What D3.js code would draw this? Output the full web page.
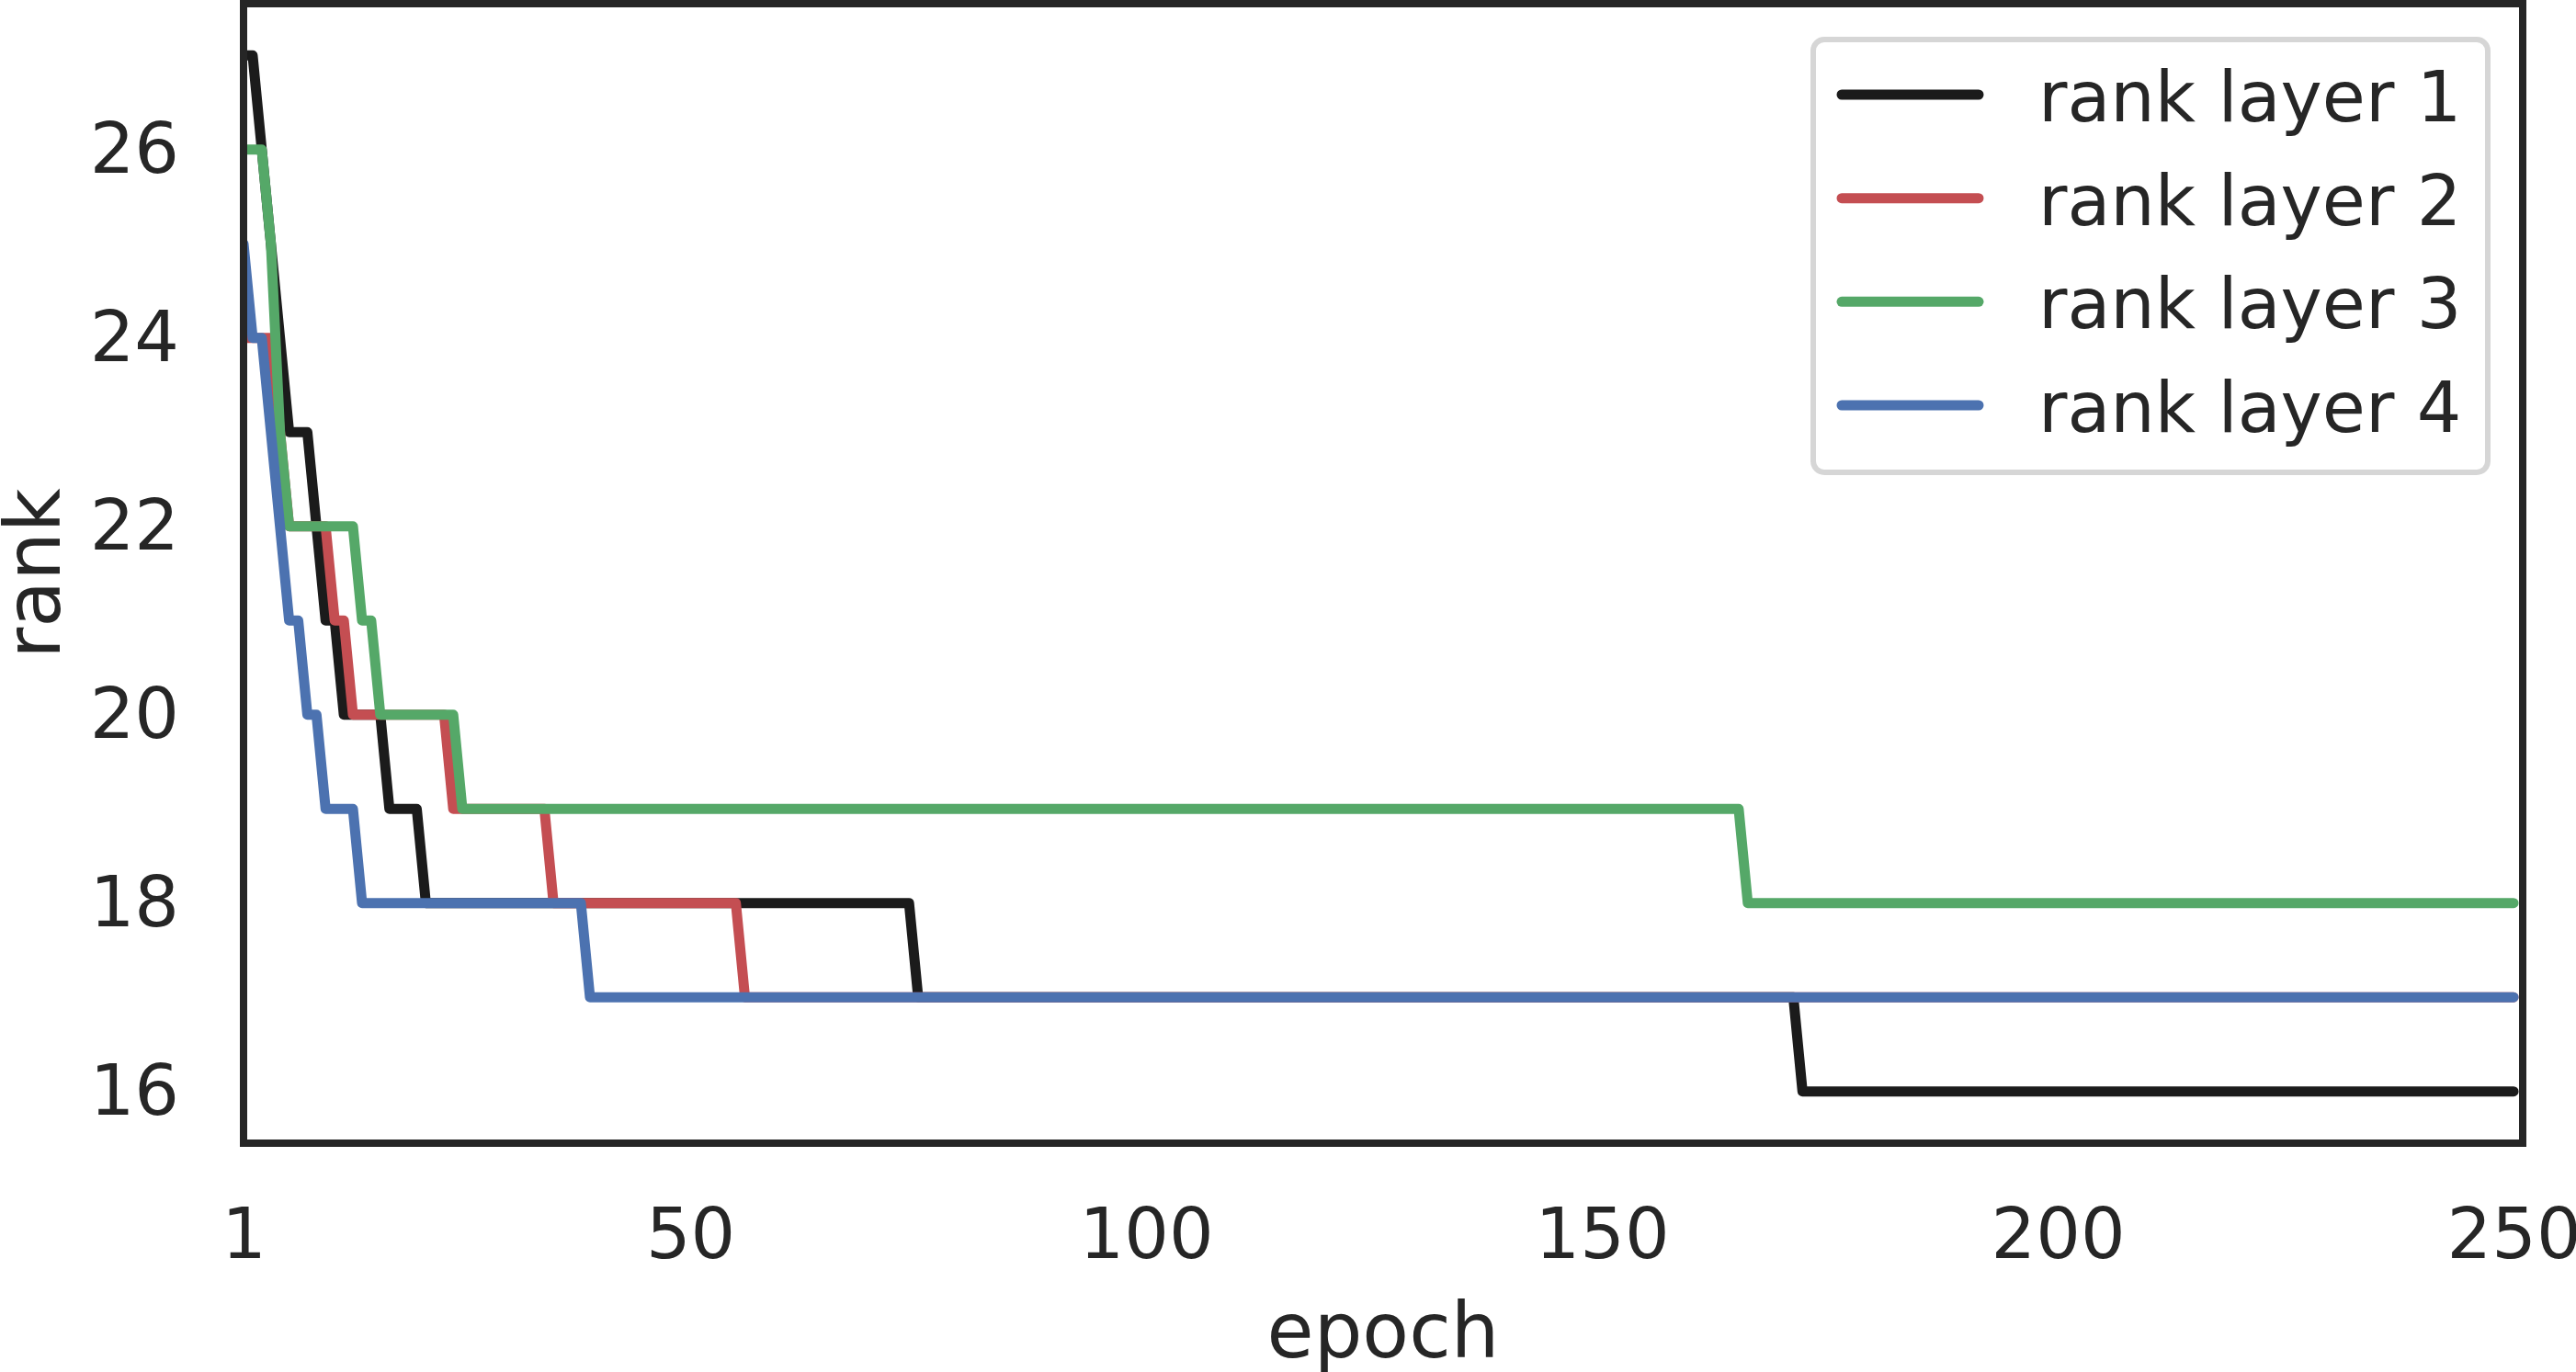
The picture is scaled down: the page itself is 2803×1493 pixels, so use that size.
<!DOCTYPE html>
<html>
<head>
<meta charset="utf-8">
<script src="https://cdn.jsdelivr.net/npm/d3@7"></script>
<style>
  html, body { margin: 0; padding: 0; background: #ffffff; }
  svg { display: block; }
  text { font-family: "DejaVu Sans", sans-serif; fill: #262626; }
</style>
</head>
<body>
<div id="chart"></div>
<script>
// Step changes: [epoch where the rank starts, rank]
const layer1 = [[1, 27], [3, 26], [4, 25], [5, 24], [6, 23], [9, 22], [10, 21], [12, 20], [17, 19], [21, 18], [75, 17], [172, 16]];
const layer2 = [[1, 24], [5, 23], [6, 22], [11, 21], [13, 20], [24, 19], [35, 18], [56, 17]];
const layer3 = [[1, 26], [4, 25], [5, 23], [6, 22], [14, 21], [16, 20], [25, 19], [166, 18]];
const layer4 = [[1, 25], [2, 24], [4, 23], [5, 22], [6, 21], [8, 20], [10, 19], [14, 18], [39, 17]];

const seriesNames = ["rank layer 1", "rank layer 2", "rank layer 3", "rank layer 4"];
const seriesColors = ["#1b1b1b", "#c44e52", "#55a868", "#4c72b0"];
const lastEpoch = 250;

const xTicks = [1, 50, 100, 150, 200, 250];
const yTicks = [16, 18, 20, 22, 24, 26];

const width = 2803;
const height = 1493;
const plot = { left: 265, right: 2745, top: 4, bottom: 1244 };
const tickFont = 76.5;
const labelFont = 83;

// expand the change points into one value per epoch (what was plotted)
const expand = (changes) => {
  const values = [];
  let k = 0;
  for (let epoch = 1; epoch <= lastEpoch; epoch++) {
    while (k + 1 < changes.length && changes[k + 1][0] <= epoch) k++;
    values.push({ epoch, rank: changes[k][1] });
  }
  return values;
};

const series = [layer1, layer2, layer3, layer4].map((changes, i) => ({
  name: seriesNames[i],
  color: seriesColors[i],
  values: expand(changes),
}));

const x = d3.scaleLinear().domain([1, 251]).range([plot.left, plot.right]);
const y = d3.scaleLinear().domain([15.45, 27.55]).range([plot.bottom, plot.top]);

const svg = d3
  .select("#chart")
  .append("svg")
  .attr("width", width)
  .attr("height", height)
  .attr("viewBox", `0 0 ${width} ${height}`);

svg.append("rect").attr("width", width).attr("height", height).attr("fill", "#ffffff");

svg
  .append("clipPath")
  .attr("id", "plot-clip")
  .append("rect")
  .attr("x", plot.left)
  .attr("y", plot.top)
  .attr("width", plot.right - plot.left)
  .attr("height", plot.bottom - plot.top);

const line = d3
  .line()
  .x((d) => x(d.epoch))
  .y((d) => y(d.rank));

svg
  .append("g")
  .attr("clip-path", "url(#plot-clip)")
  .selectAll("path")
  .data(series)
  .join("path")
  .attr("d", (s) => line(s.values))
  .attr("fill", "none")
  .attr("stroke", (s) => s.color)
  .attr("stroke-width", 11)
  .attr("stroke-linejoin", "round")
  .attr("stroke-linecap", "round");

// axes: no tick marks, labels only
const xAxis = svg
  .append("g")
  .attr("transform", `translate(0,${plot.bottom})`)
  .call(d3.axisBottom(x).tickValues(xTicks).tickSize(0).tickPadding(71).tickFormat(d3.format("d")));
const yAxis = svg
  .append("g")
  .attr("transform", `translate(${plot.left},0)`)
  .call(d3.axisLeft(y).tickValues(yTicks).tickSize(0).tickPadding(70).tickFormat(d3.format("d")));

[xAxis, yAxis].forEach((axis) => {
  axis.select(".domain").remove();
  axis.selectAll("text").attr("font-size", tickFont).attr("font-family", "DejaVu Sans").attr("fill", "#262626");
});

// frame
svg
  .append("rect")
  .attr("x", plot.left)
  .attr("y", plot.top)
  .attr("width", plot.right - plot.left)
  .attr("height", plot.bottom - plot.top)
  .attr("fill", "none")
  .attr("stroke", "#262626")
  .attr("stroke-width", 8);

svg
  .append("text")
  .attr("x", (plot.left + plot.right) / 2)
  .attr("y", 1477)
  .attr("text-anchor", "middle")
  .attr("font-size", labelFont)
  .text("epoch");

svg
  .append("text")
  .attr("transform", `translate(65,${(plot.top + plot.bottom) / 2}) rotate(-90)`)
  .attr("text-anchor", "middle")
  .attr("font-size", labelFont)
  .text("rank");

// legend
const legend = svg.append("g");
legend
  .append("rect")
  .attr("x", 1973)
  .attr("y", 43)
  .attr("width", 734)
  .attr("height", 471)
  .attr("rx", 12)
  .attr("fill", "#ffffff")
  .attr("fill-opacity", 0.8)
  .attr("stroke", "#d6d6d6")
  .attr("stroke-width", 6);

const rowY = d3.scaleLinear().domain([0, 3]).range([103, 441]);
const rows = legend
  .selectAll("g.row")
  .data(series)
  .join("g")
  .attr("class", "row")
  .attr("transform", (s, i) => `translate(0,${rowY(i)})`);

rows
  .append("line")
  .attr("x1", 2004)
  .attr("x2", 2153)
  .attr("stroke", (s) => s.color)
  .attr("stroke-width", 11)
  .attr("stroke-linecap", "round");

rows
  .append("text")
  .attr("x", 2218)
  .attr("y", 29)
  .attr("font-size", tickFont)
  .text((s) => s.name);
</script>
</body>
</html>
